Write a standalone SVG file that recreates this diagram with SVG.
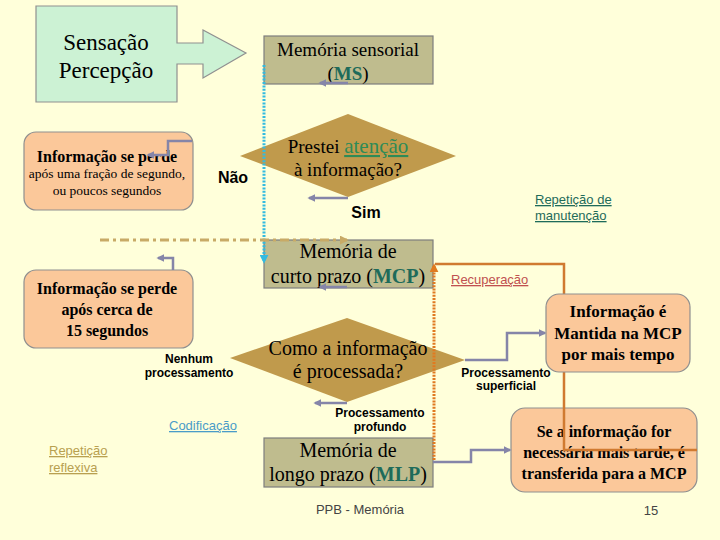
<svg xmlns="http://www.w3.org/2000/svg" width="720" height="540" viewBox="0 0 720 540">
<defs>
<style>
.serif{font-family:"Liberation Serif","Times New Roman",serif;fill:#000}
.sans{font-family:"Liberation Sans",Arial,sans-serif}
.lbl{font-family:"Liberation Sans",Arial,sans-serif;font-weight:bold;font-size:12px;fill:#000}
.olive{fill:#BFBC8E;stroke:#7E7E7E;stroke-width:1.2}
.peach{fill:#FBC89A;stroke:#8F8F8F;stroke-width:1.2}
.dia{fill:#C09A4C;stroke:none}
.teal{fill:#1E6B5A;font-weight:bold}
.pc{fill:none;stroke:#8585A8;stroke-width:2.5}
.link{font-family:"Liberation Sans",Arial,sans-serif;font-size:13px;text-decoration:underline}
</style>
<marker id="ap" viewBox="0 0 10 10" refX="8" refY="5" markerWidth="3.2" markerHeight="3.2" orient="auto"><path d="M0,0 L10,5 L0,10 z" fill="#8585A8"/></marker>
<marker id="ab" viewBox="0 0 10 10" refX="8" refY="5" markerWidth="3" markerHeight="3" orient="auto"><path d="M0,0 L10,5 L0,10 z" fill="#33BBE0"/></marker>
<marker id="ag" viewBox="0 0 10 10" refX="8" refY="5" markerWidth="3" markerHeight="3" orient="auto"><path d="M0,0 L10,5 L0,10 z" fill="#C8AA66"/></marker>
<marker id="ao" viewBox="0 0 10 10" refX="8" refY="5" markerWidth="3" markerHeight="3" orient="auto"><path d="M0,0 L10,5 L0,10 z" fill="#E07A20"/></marker>
</defs>
<rect x="0" y="0" width="720" height="540" fill="#FFFFDA"/>

<g id="sensacao">
<polygon points="36,6 177,6 177,43 203,43 203,30 246,53 203,78 203,64 177,64 177,102 36,102" fill="#CCF2D4" stroke="#909090" stroke-width="1.2"/>
<text class="serif" x="106" y="50" font-size="23" text-anchor="middle">Sensação</text>
<text class="serif" x="106" y="78" font-size="23" text-anchor="middle">Percepção</text>
</g>

<g id="ms">
<rect class="olive" x="264" y="36" width="169" height="48"/>
<text class="serif" x="348" y="56" font-size="19" text-anchor="middle">Memória sensorial</text>
<text class="serif" x="348" y="80" font-size="19" text-anchor="middle">(<tspan class="teal">MS</tspan>)</text>
</g>

<g id="perde1">
<rect class="peach" x="24" y="132" width="169" height="78" rx="12"/>
<text class="serif" x="107" y="162" font-size="16" font-weight="bold" text-anchor="middle">Informação se perde</text>
<text class="serif" x="107" y="178" font-size="13.5" text-anchor="middle">após uma fração de segundo,</text>
<text class="serif" x="107" y="195" font-size="13.5" text-anchor="middle">ou poucos segundos</text>
</g>

<g id="atencao">
<polygon class="dia" points="240,156 348,114 456,156 348,197"/>
<text class="serif" x="348" y="153" font-size="19" text-anchor="middle">Prestei <tspan fill="#2E8B57" font-size="21" text-decoration="underline">atenção</tspan></text>
<text class="serif" x="348" y="176" font-size="19" text-anchor="middle">à informação?</text>
</g>

<g id="nao"><text class="sans" x="233" y="183" font-size="16" font-weight="bold" text-anchor="middle">Não</text></g>
<g id="sim"><text class="sans" x="366" y="218" font-size="16" font-weight="bold" text-anchor="middle">Sim</text></g>
<g id="rep-manut"><text class="link" x="535" y="204" fill="#1E6B5A">Repetição de</text><text class="link" x="535" y="220" fill="#1E6B5A">manutenção</text></g>

<g id="mcp">
<rect class="olive" x="264" y="240" width="169" height="48"/>
<text class="serif" x="348" y="258" font-size="20" text-anchor="middle">Memória de</text>
<text class="serif" x="348" y="283" font-size="20" text-anchor="middle">curto prazo (<tspan class="teal">MCP</tspan>)</text>
</g>

<g id="recuperacao"><text class="link" x="451" y="284" fill="#C05050">Recuperação</text></g>

<g id="perde2">
<rect class="peach" x="24" y="270" width="169" height="78" rx="12"/>
<text class="serif" x="107" y="294" font-size="16" font-weight="bold" text-anchor="middle">Informação se perde</text>
<text class="serif" x="107" y="315" font-size="16" font-weight="bold" text-anchor="middle">após cerca de</text>
<text class="serif" x="107" y="336" font-size="16" font-weight="bold" text-anchor="middle">15 segundos</text>
</g>

<g id="processada">
<polygon class="dia" points="230,358 347,318 465,360 347,402"/>
<text class="serif" x="348" y="355" font-size="20" text-anchor="middle">Como a informação</text>
<text class="serif" x="348" y="378" font-size="20" text-anchor="middle">é processada?</text>
</g>

<g id="nenhum"><text class="lbl" x="189" y="363" text-anchor="middle">Nenhum</text><text class="lbl" x="189" y="377" text-anchor="middle">processamento</text></g>
<g id="superficial"><text class="lbl" x="506" y="377" text-anchor="middle">Processamento</text><text class="lbl" x="506" y="390" text-anchor="middle">superficial</text></g>
<g id="profundo"><text class="lbl" x="380" y="417" text-anchor="middle">Processamento</text><text class="lbl" x="380" y="431" text-anchor="middle">profundo</text></g>

<g id="codificacao"><text class="link" x="169" y="430" fill="#4A9CC8">Codificação</text></g>
<g id="rep-reflex"><text class="link" x="49" y="455" fill="#B8A050">Repetição</text><text class="link" x="49" y="472" fill="#B8A050">reflexiva</text></g>

<g id="mlp">
<rect class="olive" x="264" y="438" width="169" height="49"/>
<text class="serif" x="348" y="457" font-size="20" text-anchor="middle">Memória de</text>
<text class="serif" x="348" y="481" font-size="20" text-anchor="middle">longo prazo (<tspan class="teal">MLP</tspan>)</text>
</g>

<g id="transferida">
<rect class="peach" x="511" y="408" width="186" height="84" rx="14"/>
<text class="serif" x="604" y="437" font-size="16" font-weight="bold" text-anchor="middle">Se a informação for</text>
<text class="serif" x="604" y="458" font-size="16" font-weight="bold" text-anchor="middle">necessária mais tarde, é</text>
<text class="serif" x="604" y="479" font-size="16" font-weight="bold" text-anchor="middle">transferida para a MCP</text>
</g>

<g id="footer">
<text class="sans" x="360" y="514" font-size="13" fill="#444" text-anchor="middle">PPB - Memória</text>
<text class="sans" x="651" y="515" font-size="13" fill="#444" text-anchor="middle">15</text>
</g>

<g id="connectors">
<path class="pc" d="M348,83 L320,83" marker-end="url(#ap)"/>
<path class="pc" d="M348,198 L309,198" marker-end="url(#ap)"/>
<path class="pc" d="M347,287 L320,287" marker-end="url(#ap)"/>
<path class="pc" d="M347,403 L315,403" marker-end="url(#ap)"/>
<path class="pc" d="M192,141 L168,141 L168,155 L148,155" marker-end="url(#ap)"/>
<path class="pc" d="M173,270 L173,258 L158,258" marker-end="url(#ap)"/>
<path class="pc" d="M465,360 L507,360 L507,333 L545,333" marker-end="url(#ap)"/>
<path class="pc" d="M433,462 L471,462 L471,450 L510,450" marker-end="url(#ap)"/>
<path d="M264,65 L264,262" fill="none" stroke="#33BBE0" stroke-width="3" stroke-dasharray="2 1.4" marker-end="url(#ab)"/>
<path d="M100,240 L347,240" fill="none" stroke="#C8AA66" stroke-width="3" stroke-dasharray="9 4 3 4" marker-end="url(#ag)"/>
<path d="M434,460 L434,265" fill="none" stroke="#E07A20" stroke-width="3" stroke-dasharray="2 1.2" marker-end="url(#ao)"/>
<path d="M435,264 L564,264 L564,450 L697,450" fill="none" stroke="#D07A30" stroke-width="2.5"/>
</g>

<g id="mantida">
<rect class="peach" x="546" y="294" width="144" height="78" rx="13"/>
<text class="serif" x="618" y="317" font-size="17" font-weight="bold" text-anchor="middle">Informação é</text>
<text class="serif" x="618" y="339" font-size="17" font-weight="bold" text-anchor="middle">Mantida na MCP</text>
<text class="serif" x="618" y="360" font-size="17" font-weight="bold" text-anchor="middle">por mais tempo</text>
</g>
</svg>
